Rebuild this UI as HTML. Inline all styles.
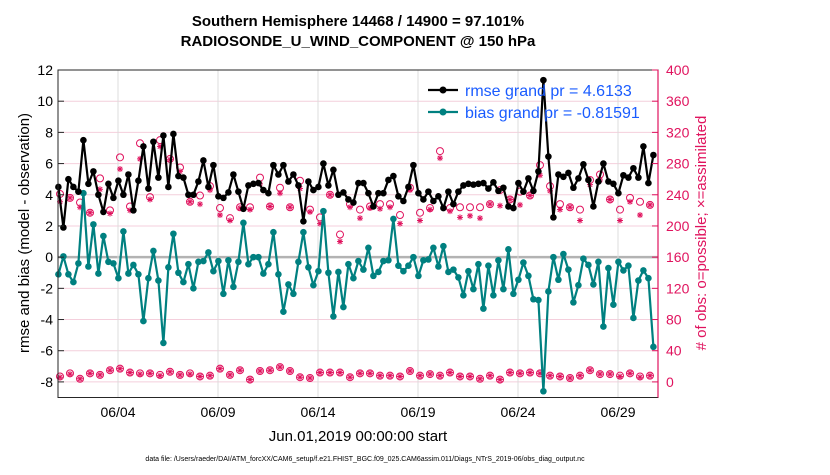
<!DOCTYPE html>
<html><head><meta charset="utf-8"><style>
body{margin:0;background:#fff;font-family:"Liberation Sans",sans-serif}
svg text{font-family:"Liberation Sans",sans-serif}
</style></head><body>
<svg id="chart" width="830" height="470" xmlns="http://www.w3.org/2000/svg">
<rect width="830" height="470" fill="#fff"/>
<text x="358" y="26" font-size="15" font-weight="bold" text-anchor="middle">Southern Hemisphere 14468 / 14900 = 97.101%</text>
<text x="358" y="46" font-size="15" font-weight="bold" text-anchor="middle">RADIOSONDE_U_WIND_COMPONENT @ 150 hPa</text>
<g id="grid"></g>
<g id="marks"></g>
<rect x="58" y="70" width="600" height="327.5" fill="none" stroke="#262626" stroke-width="1"/>
<line x1="658" y1="70" x2="658" y2="397.5" stroke="#e0135e" stroke-width="1.2"/>
<g id="axes"></g>
<text x="358" y="441" font-size="15" text-anchor="middle">Jun.01,2019 00:00:00 start</text>
<text transform="translate(29,233) rotate(-90)" font-size="15" text-anchor="middle">rmse and bias (model - observation)</text>
<text transform="translate(706,233) rotate(-90)" font-size="15" text-anchor="middle" fill="#e0135e"># of obs: o=possible; ×=assimilated</text>
<text x="365" y="461" font-size="7" text-anchor="middle">data file: /Users/raeder/DAI/ATM_forcXX/CAM6_setup/f.e21.FHIST_BGC.f09_025.CAM6assim.011/Diags_NTrS_2019-06/obs_diag_output.nc</text>
<g id="legend-layer"></g>
</svg>
<script>
const rmse=[4.5,1.9,5.0,4.5,4.2,7.5,4.7,5.5,4.0,2.9,4.7,3.8,4.9,4.0,5.3,3.0,4.9,7.1,4.4,7.4,5.1,7.8,4.5,7.9,5.2,5.1,4.0,4.0,4.85,6.2,4.5,
5.9,3.9,3.8,4.15,5.3,4.2,3.1,4.6,4.7,4.75,4.3,4.1,5.9,5.3,5.9,4.85,5.3,4.6,2.3,4.85,4.3,4.5,6.0,4.6,5.6,4.0,4.15,3.7,3.5,4.75,
4.75,4.1,3.25,4.1,4.1,4.95,5.2,3.9,3.6,4.5,5.9,4.1,3.7,4.2,3.6,3.9,3.15,4.2,3.4,4.2,4.6,4.7,4.65,4.7,4.75,4.4,4.8,4.25,4.45,3.25,
3.15,4.75,4.2,5.05,4.25,5.5,11.35,6.45,2.55,5.3,5.15,5.4,4.45,5.05,5.95,4.95,3.25,4.85,6.0,4.85,4.7,4.1,5.25,5.1,5.7,5.1,7.1,4.75,6.55];
const bias=[-1.1,0.05,-1.1,-1.6,-0.4,4.1,-0.6,2.1,-1.05,1.35,-0.3,-0.4,-1.35,1.65,-1.05,-0.5,-1.1,-4.1,-1.35,0.4,-1.5,-5.5,-0.65,1.5,-1.0,-1.6,-0.45,-2.0,-0.3,-0.25,0.3,
-0.9,-0.25,-2.35,-0.2,-1.9,-0.3,2.2,-0.45,0,0,-1.05,-0.45,1.6,-1.1,-3.5,-1.75,-2.35,-0.3,1.6,-0.65,-1.8,-0.9,2.95,-1.0,-3.8,-0.95,-3.2,-0.45,-1.35,-0.25,
-0.8,0.6,-1.2,-0.95,-0.25,-0.2,2.45,-0.55,-0.9,-0.55,0,-1.2,-0.2,-0.15,0.6,-0.6,0.7,-0.95,-0.8,-1.3,-2.45,-0.9,-2.05,-0.45,-3.3,-0.55,-2.45,-0.2,-2.05,0.5,
-2.35,-1.45,-0.35,-1.2,-2.7,-2.75,-8.6,-2.2,0,-1.45,0.2,-0.8,-2.9,-1.8,-0.1,-0.5,-1.75,-0.3,-4.45,-0.7,-3.05,-0.3,-0.85,-0.55,-3.9,-1.5,-0.85,-1.35,-5.75];
const obsPossibleUpper=[241,236,230,217,261,220,288,225,306,237,310,286,275,231,239,
251,223,210,224,224,262,225,249,224,258,221,211,240,189,228,221,
225,228,228,214,249,217,223,296,223,224,224,224,228,246,234,
244,239,278,251,228,224,221,259,266,234,221,236,231,227];
const obsAssimUpper=[231,236,224,217,247,216,273,220,286,234,302,285,270,231,228,
246,214,207,223,221,254,225,242,224,248,218,203,240,180,224,210,
223,222,224,203,246,207,221,287,219,211,213,210,228,226,234,
227,239,265,245,221,224,207,253,259,234,207,231,214,227];
const obsPossibleLower=[7,11,4,11,9,15,17,12,11,11,9,13,9,11,7,
8,17,9,15,3,14,15,19,14,6,5,12,12,12,6,11,
11,8,8,7,14,8,10,8,12,7,7,4,8,3,12,
11,12,11,8,7,5,8,15,10,10,8,11,7,8];
const obsAssimLower=[6,10,4,11,9,15,17,12,10,11,8,13,9,10,7,
8,17,9,15,3,14,15,19,14,6,5,12,12,12,6,11,
11,8,8,7,14,8,10,8,12,7,7,4,8,3,12,
11,12,11,8,7,5,8,15,10,10,7,11,6,8];
const xTickDays=[3,8,13,18,23,28];
const xTickLabels=["06/04","06/09","06/14","06/19","06/24","06/29"];
const yTicks=[-8,-6,-4,-2,0,2,4,6,8,10,12];
const yRightTicks=[0,40,80,120,160,200,240,280,320,360,400];

const NS="http://www.w3.org/2000/svg";
const X0=58,X1=658,DAYS=30,YTOP=70,YBOT=397.5,VMIN=-9,VMAX=12;
function xDay(d){return X0+d/DAYS*(X1-X0);}
function yL(v){return YBOT-(v-VMIN)/(VMAX-VMIN)*(YBOT-YTOP);}
function yR(o){return yL(o/20-8);}
function xRmse(i){return xDay(i*0.25+0.02);}
function xObs(j){return xDay(j*0.5+0.1);}
function mk(tag,attrs,parent){const e=document.createElementNS(NS,tag);for(const k in attrs)e.setAttribute(k,attrs[k]);parent.appendChild(e);return e;}
const grid=document.getElementById('grid'),marks=document.getElementById('marks'),axes=document.getElementById('axes');
yTicks.forEach(v=>{
  const y=yL(v);
  if(v!==0){const g=mk('line',{x1:X0,x2:X1,y1:y,y2:y,stroke:'#f4cfdc','stroke-width':1},grid);
  
  }
  const t=mk('line',{x1:X0,x2:X0+6,y1:y,y2:y,stroke:'#262626'},axes);
  
  
  const l=mk('text',{x:X0-5,y:y+5,'font-size':14,'text-anchor':'end'},axes);l.textContent=v;
  
  
});
const z=mk('line',{x1:X0,x2:X1,y1:yL(0),y2:yL(0),stroke:'#b3b3b3','stroke-width':2.5},grid);


yRightTicks.forEach(o=>{
  const y=yR(o);
  const t=mk('line',{x1:X1-6,x2:X1,y1:y,y2:y,stroke:'#e0135e'},axes);
  
  
  const l=mk('text',{x:X1+8,y:y+5,'font-size':14,fill:'#e0135e'},axes);l.textContent=o;
  
  
});
xTickDays.forEach((d,k)=>{
  const x=xDay(d);
  const g=mk('line',{x1:x,x2:x,y1:YTOP,y2:YBOT,stroke:'#dcdcdc','stroke-width':1},grid);
  
  
  const l=mk('text',{x:x,y:417,'font-size':14,'text-anchor':'middle'},axes);l.textContent=xTickLabels[k];
  
  
});
function star(x,y,parent){
  const g=mk('g',{stroke:'#e0135e','stroke-width':1},parent);
  
  
  const r=3,d=2.2;
  mk('line',{x1:x-r,x2:x+r,y1:y,y2:y},g);mk('line',{x1:x,x2:x,y1:y-r,y2:y+r},g);
  mk('line',{x1:x-d,x2:x+d,y1:y-d,y2:y+d},g);mk('line',{x1:x-d,x2:x+d,y1:y+d,y2:y-d},g);
}
function circ(x,y,parent){
  const c=mk('circle',{cx:x,cy:y,r:3.5,fill:'none',stroke:'#e0135e','stroke-width':1},parent);
  
  
}
obsPossibleUpper.forEach((o,j)=>circ(xObs(j),yR(o),marks));
obsAssimUpper.forEach((o,j)=>star(xObs(j),yR(o),marks));
obsPossibleLower.forEach((o,j)=>circ(xObs(j),yR(o),marks));
obsAssimLower.forEach((o,j)=>star(xObs(j),yR(o),marks));
function series(vals,color,name){
  const p=mk('polyline',{points:vals.map((v,i)=>xRmse(i)+','+yL(v)).join(' '),fill:'none',stroke:color,'stroke-width':2.2,'stroke-linejoin':'round'},marks);
  
  
  vals.forEach((v,i)=>{const c=mk('circle',{cx:xRmse(i),cy:yL(v),r:3.3,fill:color},marks);
    
    });
}
series(bias,'#008080','bias');
series(rmse,'#000000','rmse');
</script>
<svg style="position:absolute;left:0;top:0" width="830" height="470" xmlns="http://www.w3.org/2000/svg">
<g>
<line x1="428" y1="90" x2="458" y2="90" stroke="#000" stroke-width="2.2"/><circle cx="443" cy="90" r="3.5" fill="#000"/>
<text x="465" y="96" font-size="16" fill="#1a5cff" font-family="Liberation Sans, sans-serif">rmse grand pr = 4.6133</text>
<line x1="428" y1="112" x2="458" y2="112" stroke="#008080" stroke-width="2.2"/><circle cx="443" cy="112" r="3.5" fill="#008080"/>
<text x="465" y="118" font-size="16" fill="#1a5cff" font-family="Liberation Sans, sans-serif">bias grand pr = -0.81591</text>
</g>
</svg>
</body></html>
